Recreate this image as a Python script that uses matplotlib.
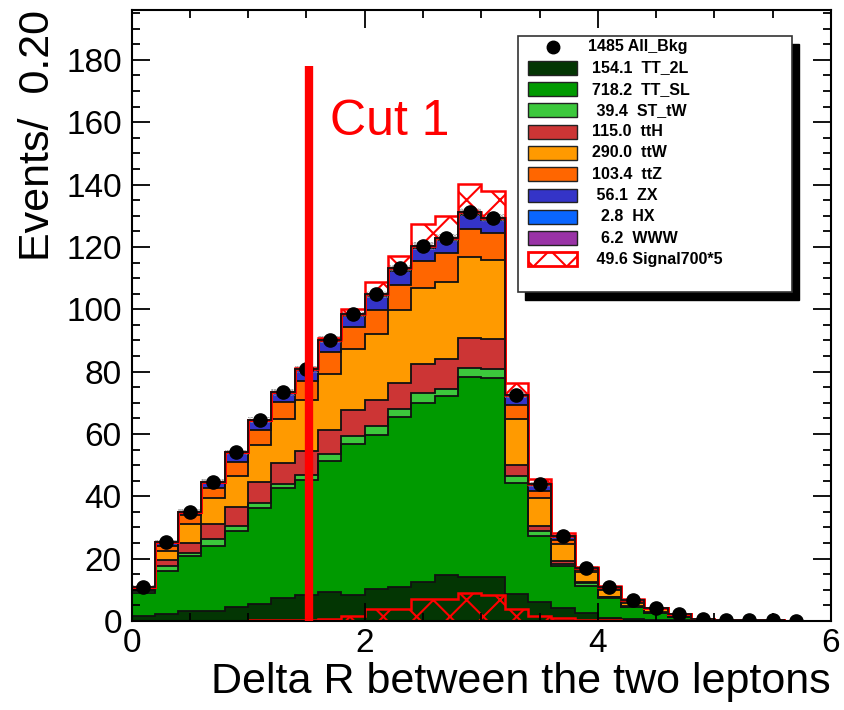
import numpy as np
import matplotlib.pyplot as plt
from matplotlib.patches import Rectangle
from matplotlib.lines import Line2D
from matplotlib.ticker import MultipleLocator
from matplotlib.transforms import offset_copy

plt.rcParams['font.family'] = ['Liberation Sans', 'DejaVu Sans']
plt.rcParams['hatch.linewidth'] = 1.5

# Delta R binning: 30 bins of width 0.2
edges = np.linspace(0.0, 6.0, 31)

# Background samples (events per bin), stacked bottom to top
TT_2L = [1.6, 2.2, 3.3, 3.3, 4.6, 5.6, 7.5, 8.4, 9.3, 8.4, 10.3, 10.8, 12.5, 14.6, 14.0,
         14.2, 8.6, 6.1, 4.3, 2.5, 0.9, 0.5, 0.3, 0.2, 0.1, 0, 0, 0, 0, 0]
TT_SL = [7.5, 13.9, 17.6, 20.8, 24.4, 30.7, 35.2, 36.9, 42.1, 48.5, 49.4, 54.8, 57.4, 57.5, 64.2,
         63.8, 35.7, 21.1, 13.2, 8.7, 6.4, 3.9, 2.2, 1.0, 0.5, 0.3, 0.2, 0.2, 0.1, 0]
ST_tW = [0.6, 1.6, 0.8, 2.1, 1.6, 1.7, 1.4, 1.6, 2.2, 2.6, 3.0, 2.4, 3.2, 2.4, 3.0,
         2.9, 2.1, 1.6, 0.9, 0.9, 0.3, 0.2, 0.2, 0.1, 0, 0, 0, 0, 0, 0]
ttH = [0.3, 1.9, 3.4, 4.9, 5.9, 6.5, 6.7, 7.5, 7.8, 8.1, 8.2, 8.4, 9.2, 9.4, 9.6,
       9.7, 3.7, 1.8, 0.7, 0.5, 0.2, 0.2, 0.2, 0.1, 0.1, 0, 0, 0, 0, 0]
ttW = [0.3, 3.0, 6.0, 8.3, 10.1, 11.9, 13.9, 16.6, 17.9, 19.7, 21.2, 23.5, 24.6, 25.0, 26.0,
       25.1, 14.6, 8.9, 5.6, 3.2, 2.1, 1.1, 0.8, 0.5, 0.1, 0, 0, 0, 0, 0]
ttZ = [0.2, 1.5, 2.9, 3.2, 4.3, 4.8, 5.4, 5.9, 6.9, 7.0, 7.8, 8.0, 8.6, 9.1, 8.9,
       8.9, 4.5, 2.3, 1.3, 0.7, 0.5, 0.4, 0.2, 0.1, 0, 0, 0, 0, 0, 0]
ZX = [0.4, 1.1, 0.9, 1.9, 3.0, 2.9, 2.9, 3.5, 3.5, 3.6, 4.2, 4.5, 4.1, 4.1, 4.6,
      4.0, 2.9, 1.7, 1.1, 0.4, 0.3, 0.3, 0.1, 0.1, 0, 0, 0, 0, 0, 0]
HX = [0, 0, 0.1, 0.1, 0.1, 0.1, 0.1, 0.1, 0.2, 0.2, 0.2, 0.2, 0.2, 0.2, 0.2,
      0.2, 0.1, 0.1, 0.1, 0.1, 0.1, 0.1, 0, 0, 0, 0, 0, 0, 0, 0]
WWW = [0.1, 0.1, 0.1, 0.1, 0.1, 0.2, 0.2, 0.2, 0.4, 0.4, 0.5, 0.5, 0.5, 0.6, 0.6,
       0.5, 0.3, 0.2, 0.1, 0.1, 0.1, 0.1, 0.1, 0.1, 0, 0, 0, 0, 0, 0]

# Signal (x5), drawn both on its own and on top of the stack
signal = [0, 0, 0, 0, 0.1, 0.2, 0.3, 0.3, 0.5, 1.6, 4.0, 4.0, 7.0, 7.0, 9.0,
          8.5, 4.0, 1.6, 0.9, 0.3, 0.2, 0.1, 0, 0, 0, 0, 0, 0, 0, 0]

# statistical uncertainty on the total background
bkg_err = [0.5, 0.6, 0.7, 0.8, 0.9, 0.9, 1.0, 1.0, 1.1, 1.1, 1.2, 1.2, 1.2, 1.3, 1.3,
           1.3, 1.0, 0.8, 0.6, 0.5, 0.4, 0.3, 0.3, 0.2, 0.1, 0.1, 0.1, 0.1, 0.1, 0]

bkg_names = ['TT_2L', 'TT_SL', 'ST_tW', 'ttH', 'ttW', 'ttZ', 'ZX', 'HX', 'WWW']
bkg_vals = [TT_2L, TT_SL, ST_tW, ttH, ttW, ttZ, ZX, HX, WWW]
bkg_cols = ['#033603', '#009a00', '#3cc83c', '#cc3535', '#ff9a00',
            '#ff6600', '#3434c8', '#0a66ff', '#9933a6']

cut_x = 1.52
cut_top = 178

fig = plt.figure(figsize=(8.44, 7.10), dpi=100)
ax = fig.add_axes([131.5 / 844, 89 / 710, 699.5 / 844, 611 / 710])

# stacked fills
base = np.zeros(len(edges) - 1)
tops = []
for vals, col in zip(bkg_vals, bkg_cols):
    top = base + np.asarray(vals)
    ax.stairs(top, edges, baseline=base, fill=True, facecolor=col,
              edgecolor='none', linewidth=0)
    tops.append(top)
    base = top
total = base

# outline of every stacked histogram
for top in tops:
    ax.stairs(top, edges, baseline=0, color='#111111', linewidth=1.3)

sig = np.asarray(signal)
err = np.asarray(bkg_err)

# signal on its own at the bottom
ax.stairs(sig, edges, baseline=0, fill=True, facecolor='none',
          edgecolor='red', hatch='x', linewidth=0)
ax.stairs(sig, edges, baseline=0, color='red', linewidth=1.8)

# uncertainty band
ax.stairs(total + err, edges, baseline=total - err, fill=True,
          facecolor='none', edgecolor='#8a8a8a', hatch='.....', linewidth=0)

# signal stacked on the background
ax.stairs(total + sig, edges, baseline=total, fill=True, facecolor='none',
          edgecolor='red', hatch='x', linewidth=0)
ax.stairs(total + sig, edges, baseline=total, color='red', linewidth=1.8)
ax.stairs(total, edges, baseline=0, color='#111111', linewidth=1.3)

# total background as points
centers = 0.5 * (edges[:-1] + edges[1:])
filled = total > 0
ax.plot(centers[filled], total[filled], 'o', color='black', ms=9.5, zorder=5)

# cut line
ax.plot([cut_x, cut_x], [0, cut_top], color='#ff0000', lw=6,
        solid_capstyle='butt', zorder=6)
ax.text(1.70, 156, 'Cut 1', color='#ff0000', fontsize=36, zorder=6)

ax.set_xlim(0, 6)
ax.set_ylim(0, 196)
ax.xaxis.set_major_locator(MultipleLocator(2))
ax.xaxis.set_minor_locator(MultipleLocator(0.5))
ax.yaxis.set_major_locator(MultipleLocator(20))
ax.yaxis.set_minor_locator(MultipleLocator(5))
ax.tick_params(which='both', direction='in', top=True, right=True, width=1.3)
ax.tick_params(which='major', length=13, labelsize=24)
ax.tick_params(which='minor', length=5.5)
ax.tick_params(axis='y', pad=7)
ax.tick_params(axis='x', pad=5)
for sp in ax.spines.values():
    sp.set_linewidth(1.5)

ax.set_xlabel('Delta R between the two leptons', fontsize=31, loc='right', labelpad=2)
ax.set_ylabel('Events/  0.20', fontsize=31, loc='top', labelpad=6)

# legend box with a drop shadow
x0, x1 = 0.5525, 0.9443
y0, y1 = 0.5385, 0.9574
shadow_tr = offset_copy(ax.transAxes, fig=fig, x=7, y=-8, units='dots')
ax.add_patch(Rectangle((x0, y0), x1 - x0, y1 - y0, transform=shadow_tr,
                       facecolor='black', edgecolor='black', zorder=8, clip_on=False))
ax.add_patch(Rectangle((x0, y0), x1 - x0, y1 - y0, transform=ax.transAxes,
                       facecolor='white', edgecolor='#333333', lw=1.2, zorder=9,
                       clip_on=False))

row0 = 0.940
step = 0.0348
sw_x, sw_w, sw_h = 0.5669, 0.070, 0.0229
txt_kw = dict(transform=ax.transAxes, fontsize=11.5, fontweight='bold',
              va='center', ha='left', zorder=10)

ax.plot([sw_x + sw_w / 2], [row0], 'o', color='black', ms=9,
        transform=ax.transAxes, zorder=10, clip_on=False)
ax.text(0.6526, row0, f'{total.sum():.0f} All_Bkg', **txt_kw)

for i, (name, vals, col) in enumerate(zip(bkg_names, bkg_vals, bkg_cols)):
    yc = row0 - (i + 1) * step
    ax.add_patch(Rectangle((sw_x, yc - sw_h / 2), sw_w, sw_h, transform=ax.transAxes,
                           facecolor=col, edgecolor='#222222', lw=1.0, zorder=10))
    ax.text(0.6583, yc, f'{sum(vals):5.1f}  {name}', **txt_kw)

yc = row0 - 10 * step
ax.add_patch(Rectangle((sw_x, yc - sw_h / 2), sw_w, sw_h, transform=ax.transAxes,
                       facecolor='white', edgecolor='red', hatch='x', lw=2.0, zorder=10))
ax.text(0.6583, yc, f'{sig.sum():5.1f} Signal700*5', **txt_kw)

fig.savefig('out.png', dpi=100)
